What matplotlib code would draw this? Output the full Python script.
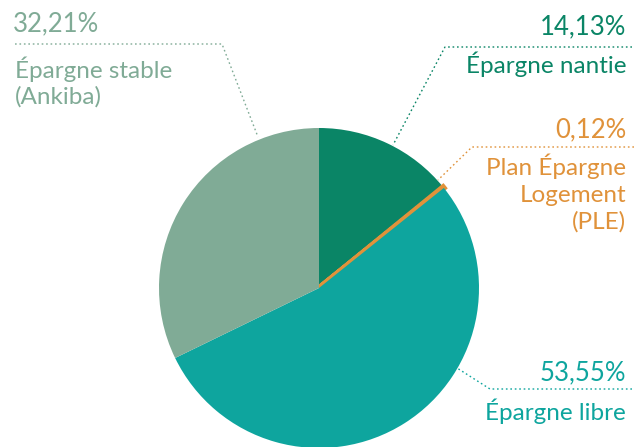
import matplotlib.pyplot as plt

# share of savings by product (in %)
labels = ['Épargne nantie', 'Plan Épargne\nLogement\n(PLE)', 'Épargne libre', 'Épargne stable\n(Ankiba)']
values = [14.13, 0.12, 53.55, 32.21]
pct_text = ['14,13%', '0,12%', '53,55%', '32,21%']
colors = ['#0a8566', '#e0923a', '#0ea59e', '#80ab96']

W, H = 642, 447
fig = plt.figure(figsize=(W / 100, H / 100), dpi=100)
ax = fig.add_axes([0, 0, 1, 1])

wedges, _ = ax.pie(values, colors=colors, startangle=90, counterclock=False,
                   center=(319, H - 288), radius=160, frame=True)
# the PLE slice is very thin, give it an edge so it shows
wedges[1].set_edgecolor(colors[1])
wedges[1].set_linewidth(4)
ax.set_xlim(0, W)
ax.set_ylim(0, H)
ax.set_aspect('equal')
ax.axis('off')

font = 'Lato'
fs = 17.5
fs_pct = 18.5


def y(v):
    return H - v


# Épargne stable (left)
c = colors[3]
ax.text(13, y(31), pct_text[3], color=c, fontsize=fs_pct, family=font, ha='left', va='baseline')
ax.plot([15, 222, 258], [y(44), y(44), y(137)], color=c, lw=1, ls=(0, (1.2, 2)))
ax.text(15, y(78), 'Épargne stable', color=c, fontsize=fs, family=font, ha='left', va='baseline')
ax.text(15, y(104), '(Ankiba)', color=c, fontsize=fs, family=font, ha='left', va='baseline')

# Épargne nantie
c = colors[0]
ax.text(626, y(34), pct_text[0], color=c, fontsize=fs_pct, family=font, ha='right', va='baseline')
ax.plot([632, 445, 393], [y(47), y(47), y(145)], color=c, lw=1, ls=(0, (1.2, 2)))
ax.text(626, y(73), labels[0], color=c, fontsize=fs, family=font, ha='right', va='baseline')

# PLE
c = colors[1]
ax.text(626, y(137), pct_text[1], color=c, fontsize=fs_pct, family=font, ha='right', va='baseline')
ax.plot([634, 472, 438], [y(147), y(147), y(180)], color=c, lw=1, ls=(0, (1.2, 2)))
for i, line in enumerate(labels[1].split('\n')):
    ax.text(626, y(175 + 27 * i), line, color=c, fontsize=fs, family=font, ha='right', va='baseline')

# Épargne libre
c = colors[2]
ax.text(626, y(380), pct_text[2], color=c, fontsize=fs_pct, family=font, ha='right', va='baseline')
ax.plot([632, 490, 457], [y(389), y(389), y(368)], color=c, lw=1, ls=(0, (1.2, 2)))
ax.text(626, y(420), labels[2], color=c, fontsize=fs, family=font, ha='right', va='baseline')

fig.savefig('out.png', dpi=100)
